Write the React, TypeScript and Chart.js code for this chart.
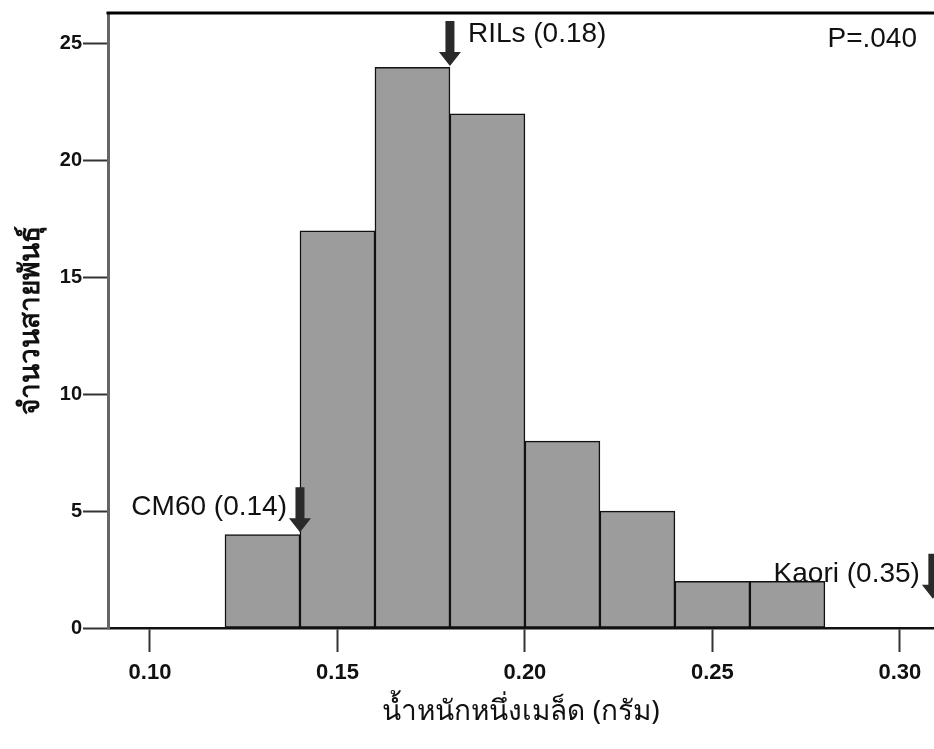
import React, { useEffect, useRef } from "react";
import { Chart, registerables } from "chart.js";

Chart.register(...registerables);

// Histogram bins (bin centres, width 0.02 g) and counts
const binCenters = [0.13, 0.15, 0.17, 0.19, 0.21, 0.23, 0.25, 0.27];
const counts = [4, 17, 24, 22, 8, 5, 2, 2];

// Axis ticks
const xTicks = [0.1, 0.15, 0.2, 0.25, 0.3];
const yTicks = [0, 5, 10, 15, 20, 25];

// Axis titles
const xTitle = "น้ำหนักหนึ่งเมล็ด (กรัม)";
const yTitle = "จำนวนสายพันธุ์";

// Marker arrows (x position in g, y value at arrow tip)
const markerLabels = ["CM60 (0.14)", "RILs (0.18)", "Kaori (0.35)"];
const markerX = [0.14, 0.18, 0.3088];
const markerTipY = [4.1, 24.05, 1.25];
const markerSide = ["left", "right", "left"];

const pValueText = "P=.040";

const FONT = "'Liberation Sans', Arial, sans-serif";

const framePlugin = {
  id: "frameAndMarkers",
  afterDraw(chart: any) {
    const { ctx, chartArea, scales } = chart;
    const xs = scales.x;
    const ys = scales.y;
    ctx.save();
    // top border
    ctx.strokeStyle = "#000";
    ctx.lineWidth = 3;
    ctx.beginPath();
    ctx.moveTo(chartArea.left - 1.5, chartArea.top);
    ctx.lineTo(chartArea.right, chartArea.top);
    ctx.stroke();

    // arrows
    const arrowLen = 45;
    const headLen = 14;
    const shaftW = 9;
    const headW = 22;
    ctx.font = "28px " + FONT;
    ctx.textBaseline = "middle";
    for (let i = 0; i < markerLabels.length; i++) {
      const px = xs.getPixelForValue(markerX[i]);
      const tip = ys.getPixelForValue(markerTipY[i]);
      const top = tip - arrowLen;
      ctx.fillStyle = "#2a2a2a";
      ctx.beginPath();
      ctx.moveTo(px - shaftW / 2, top);
      ctx.lineTo(px + shaftW / 2, top);
      ctx.lineTo(px + shaftW / 2, tip - headLen);
      ctx.lineTo(px + headW / 2, tip - headLen);
      ctx.lineTo(px, tip);
      ctx.lineTo(px - headW / 2, tip - headLen);
      ctx.lineTo(px - shaftW / 2, tip - headLen);
      ctx.closePath();
      ctx.fill();
      ctx.fillStyle = "#111";
      if (markerSide[i] === "left") {
        ctx.textAlign = "right";
        ctx.fillText(markerLabels[i], px - 13, top + 20);
      } else {
        ctx.textAlign = "left";
        ctx.fillText(markerLabels[i], px + 18, top + 13);
      }
    }
    // P value
    ctx.textAlign = "right";
    ctx.fillStyle = "#111";
    ctx.fillText(pValueText, chartArea.right - 17, chartArea.top + 26);
    ctx.restore();
  },
};

export default function App() {
  const ref = useRef<HTMLCanvasElement | null>(null);
  useEffect(() => {
    if (!ref.current) return;
    const chart = new Chart(ref.current, {
      type: "bar",
      data: {
        datasets: [
          {
            data: binCenters.map((x, i) => ({ x, y: counts[i] })),
            backgroundColor: "#9c9c9c",
            borderColor: "#111",
            borderWidth: 1.5,
            borderSkipped: false,
            barPercentage: 1,
            categoryPercentage: 1,
          },
        ],
      },
      options: {
        animation: false,
        responsive: false,
        maintainAspectRatio: false,
        layout: { padding: { top: 12, left: 0, right: 0, bottom: 0 } },
        plugins: { legend: { display: false }, tooltip: { enabled: false } },
        scales: {
          x: {
            type: "linear",
            offset: false,
            min: 0.0888,
            max: 0.3091,
            afterBuildTicks: (s: any) => {
              s.ticks = xTicks.map((v) => ({ value: v }));
            },
            afterFit: (s: any) => {
              s.height = 121;
            },
            ticks: {
              callback: (v: any) => Number(v).toFixed(2),
              font: { family: FONT, size: 22, weight: "bold" },
              color: "#111",
              padding: 8,
              maxRotation: 0,
              autoSkip: false,
            },
            grid: {
              offset: false,
              drawOnChartArea: false,
              drawTicks: true,
              tickLength: 24,
              tickColor: "#333",
              tickWidth: 2,
            },
            border: { display: true, color: "#111", width: 2.5 },
            title: {
              display: true,
              text: xTitle,
              font: { family: "'Noto Sans', sans-serif", size: 28 },
              color: "#111",
              padding: { top: 0, bottom: 20 },
            },
          },
          y: {
            min: 0,
            max: 26.32,
            afterBuildTicks: (s: any) => {
              s.ticks = yTicks.map((v) => ({ value: v }));
            },
            afterFit: (s: any) => {
              s.width = 108;
            },
            ticks: {
              font: { family: FONT, size: 20, weight: "bold" },
              color: "#111",
              padding: 1,
            },
            grid: {
              drawOnChartArea: false,
              drawTicks: true,
              tickLength: 25,
              tickColor: "#333",
              tickWidth: 2,
            },
            border: { display: true, color: "#666", width: 3 },
            title: {
              display: true,
              text: yTitle,
              font: { family: "'Noto Sans', sans-serif", size: 28, weight: "bold" },
              color: "#111",
              padding: { top: 14, bottom: 0 },
            },
          },
        },
      },
      plugins: [framePlugin],
    } as any);
    return () => chart.destroy();
  }, []);
  return (
    <div style={{ position: "fixed", left: 0, top: 0, width: 934, height: 749, background: "#fff" }}>
      <canvas ref={ref} width={934} height={749} style={{ width: 934, height: 749, display: "block" }} />
    </div>
  );
}
